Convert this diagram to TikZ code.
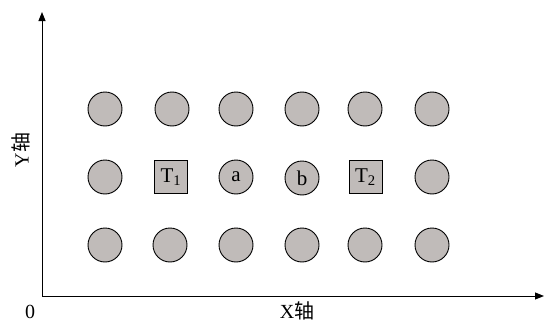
\documentclass[tikz,border=0pt]{standalone}
\usepackage{fontspec}
\setmainfont{Liberation Serif}
\newfontfamily\cjk{Noto Sans CJK SC}
\usetikzlibrary{arrows.meta}
\definecolor{cellgray}{RGB}{192,187,185}
\tikzset{
  dot/.style={circle,draw=black,fill=cellgray,line width=0.9pt,minimum size=34pt,inner sep=0pt,font=\fontsize{21}{21}\selectfont},
  sq/.style={rectangle,draw=black,fill=cellgray,line width=0.9pt,minimum size=33pt,inner sep=0pt,font=\fontsize{21}{21}\selectfont},
  axis/.style={line width=1pt,-{Triangle[length=9pt,width=7pt]}},
  lbl/.style={font=\fontsize{20}{20}\selectfont,inner sep=1pt}
}
\begin{document}
\begin{tikzpicture}[x=1pt,y=-1pt]
\useasboundingbox (0,0) rectangle (544,324);
\coordinate (O) at (42,296);
\coordinate (ytop) at (42,12);
\coordinate (xend) at (544,296);
\draw[axis] (O) -- (ytop);
\draw[axis] (O) -- (xend);
\node[lbl] (zero) at (30,312) {0};
\node[lbl] (xl) at (297,311) {X{\cjk 轴}};
\node[lbl,rotate=90] (yl) at (21,150) {Y{\cjk 轴}};
% row 1
\node[dot] (r1c1) at (105,109) {};
\node[dot] (r1c2) at (172,109) {};
\node[dot] (r1c3) at (236,109) {};
\node[dot] (r1c4) at (302,109) {};
\node[dot] (r1c5) at (365,109) {};
\node[dot] (r1c6) at (432,109) {};
% row 2
\node[dot] (r2c1) at (105,177) {};
\node[sq] (t1) at (171,177) {T\textsubscript{1}};
\node[dot] (a) at (236,177) {a};
\node[dot] (b) at (302,178) {b};
\node[sq] (t2) at (365.5,177) {T\textsubscript{2}};
\node[dot] (r2c6) at (432,177) {};
% row 3
\node[dot] (r3c1) at (105,245) {};
\node[dot] (r3c2) at (170,245) {};
\node[dot] (r3c3) at (236,245) {};
\node[dot] (r3c4) at (302,245) {};
\node[dot] (r3c5) at (365,245) {};
\node[dot] (r3c6) at (432,245) {};
\end{tikzpicture}
\end{document}
